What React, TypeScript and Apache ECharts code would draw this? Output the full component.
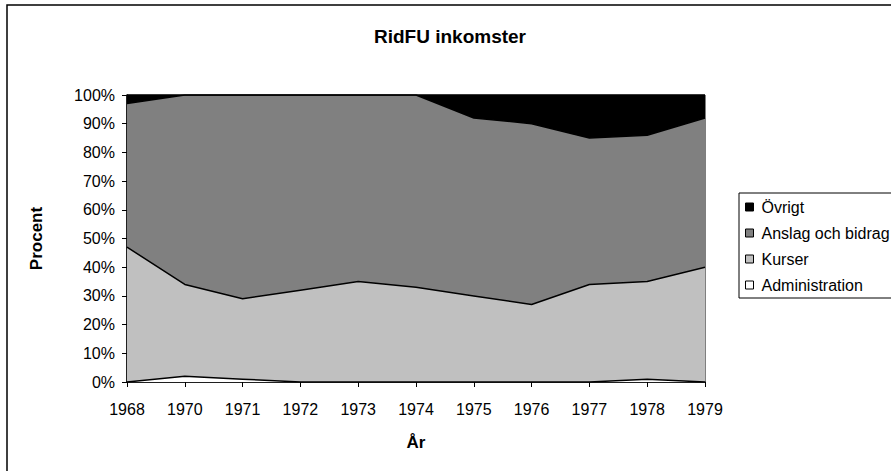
import React, { useEffect, useRef } from "react";
import * as echarts from "echarts";

const years = ["1968", "1970", "1971", "1972", "1973", "1974", "1975", "1976", "1977", "1978", "1979"];
const administration = [0, 2, 1, 0, 0, 0, 0, 0, 0, 1, 0];
const kurser = [47, 32, 28, 32, 35, 33, 30, 27, 34, 34, 40];
const anslag = [50, 66, 71, 68, 65, 67, 62, 63, 51, 51, 52];
const ovrigt = [3, 0, 0, 0, 0, 0, 8, 10, 15, 14, 8];

const FONT = "'Liberation Sans', Arial, sans-serif";

export default function App() {
  const ref = useRef<HTMLDivElement>(null);
  useEffect(() => {
    document.body.style.margin = "0";
    const chart = echarts.init(ref.current!, null, { renderer: "svg" });
    const mk = (name: string, data: number[], color: string) => ({
      name,
      type: "line",
      stack: "total",
      data,
      symbol: "none",
      lineStyle: { color: "#000", width: 1.5 },
      areaStyle: { color, opacity: 1 },
      itemStyle: { color, borderColor: "#000", borderWidth: 1 },
      emphasis: { disabled: true },
    });
    chart.setOption({
      animation: false,
      backgroundColor: "#fff",
      textStyle: { fontFamily: FONT },
      title: {
        text: "RidFU inkomster",
        left: 445,
        textAlign: "center",
        top: 22,
        textStyle: { fontFamily: FONT, fontSize: 19, fontWeight: "bold", color: "#000" },
      },
      graphic: [
        {
          type: "rect",
          shape: { x: 7, y: 5, width: 910, height: 490 },
          style: { fill: "none", stroke: "#000", lineWidth: 1.5 },
          silent: true,
          z: -1,
        },
      ],
      legend: {
        orient: "vertical",
        left: 739,
        top: 193,
        data: ["Övrigt", "Anslag och bidrag", "Kurser", "Administration"],
        icon: "rect",
        itemWidth: 8,
        itemHeight: 8,
        itemGap: 10,
        padding: [6, 40, 5, 6],
        backgroundColor: "#fff",
        borderColor: "#000",
        borderWidth: 1,
        textStyle: { fontFamily: FONT, fontSize: 16, color: "#000", padding: [0, 0, 0, 3] },
        itemStyle: { borderColor: "#000", borderWidth: 1 },
      },
      grid: { left: 127, right: 186, top: 95, bottom: 89, show: true, borderColor: "#000", borderWidth: 1, backgroundColor: "transparent" },
      xAxis: {
        type: "category",
        data: years,
        boundaryGap: false,
        name: "År",
        nameLocation: "middle",
        nameGap: 52,
        nameTextStyle: { fontFamily: FONT, fontSize: 17, fontWeight: "bold", color: "#000" },
        axisLine: { lineStyle: { color: "#000", width: 1.5 } },
        axisTick: { show: true, length: 5, lineStyle: { color: "#000" }, alignWithLabel: true },
        axisLabel: { fontFamily: FONT, fontSize: 16, color: "#000", margin: 19 },
        splitLine: { show: false },
      },
      yAxis: {
        type: "value",
        min: 0,
        max: 100,
        interval: 10,
        name: "Procent",
        nameLocation: "middle",
        nameRotate: 90,
        nameGap: 82,
        nameTextStyle: { fontFamily: FONT, fontSize: 17, fontWeight: "bold", color: "#000" },
        axisLine: { show: true, lineStyle: { color: "#000", width: 1.5 } },
        axisTick: { show: true, length: 5, lineStyle: { color: "#000" } },
        axisLabel: { fontFamily: FONT, fontSize: 16, color: "#000", margin: 12, formatter: "{value}%" },
        splitLine: { show: false },
      },
      series: [
        mk("Administration", administration, "#ffffff"),
        mk("Kurser", kurser, "#c0c0c0"),
        mk("Anslag och bidrag", anslag, "#808080"),
        mk("Övrigt", ovrigt, "#000000"),
      ],
    });
    return () => chart.dispose();
  }, []);
  return <div ref={ref} style={{ width: 891, height: 471 }} />;
}
